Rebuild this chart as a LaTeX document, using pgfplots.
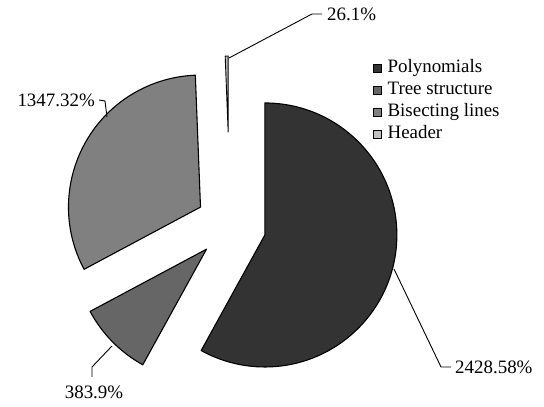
\documentclass[border=0pt]{standalone}
\usepackage{pgfplots}
\pgfplotsset{compat=1.18}
\usepackage{pgfplotstable}
\usepackage{fontspec}
\setmainfont{Liberation Serif}
\definecolor{cPoly}{RGB}{51,51,51}
\definecolor{cTree}{RGB}{102,102,102}
\definecolor{cBis}{RGB}{128,128,128}
\definecolor{cHead}{RGB}{192,192,192}

% label value explode(bp) radius(bp)
\pgfplotstableread{
label value explode radius
Polynomials 2428.58 36 132
Tree 383.9 33 132
Bisecting 1347.32 34 132
Header 26.1 94 76
}\piedata

\begin{document}
\begin{tikzpicture}
\fontsize{19}{22}\selectfont
\pgfplotstablegetelem{0}{value}\of\piedata \edef\vA{\pgfplotsretval}
\pgfplotstablegetelem{1}{value}\of\piedata \edef\vB{\pgfplotsretval}
\pgfplotstablegetelem{2}{value}\of\piedata \edef\vC{\pgfplotsretval}
\pgfplotstablegetelem{3}{value}\of\piedata \edef\vD{\pgfplotsretval}
\pgfplotstablegetelem{0}{explode}\of\piedata \edef\eA{\pgfplotsretval}
\pgfplotstablegetelem{1}{explode}\of\piedata \edef\eB{\pgfplotsretval}
\pgfplotstablegetelem{2}{explode}\of\piedata \edef\eC{\pgfplotsretval}
\pgfplotstablegetelem{3}{explode}\of\piedata \edef\eD{\pgfplotsretval}
\pgfplotstablegetelem{0}{radius}\of\piedata \edef\rA{\pgfplotsretval}
\pgfplotstablegetelem{1}{radius}\of\piedata \edef\rB{\pgfplotsretval}
\pgfplotstablegetelem{2}{radius}\of\piedata \edef\rC{\pgfplotsretval}
\pgfplotstablegetelem{3}{radius}\of\piedata \edef\rD{\pgfplotsretval}
\pgfmathsetmacro{\tot}{(\vA+\vB+\vC+\vD)/100}
\pgfmathsetmacro{\fA}{(\vA/100)/\tot}
\pgfmathsetmacro{\fB}{(\vB/100)/\tot}
\pgfmathsetmacro{\fC}{(\vC/100)/\tot}
\pgfmathsetmacro{\fD}{(\vD/100)/\tot}
\pgfmathsetmacro{\aA}{90}
\pgfmathsetmacro{\aB}{\aA-360*\fA}
\pgfmathsetmacro{\aC}{\aB-360*\fB}
\pgfmathsetmacro{\aD}{\aC-360*\fC}
\pgfmathsetmacro{\aE}{\aD-360*\fD}
% centre of the pie (axis units = bp)
\def\cx{230}\def\cy{181}
\pgfmathsetmacro{\pAx}{\cx+\eA*cos((\aA+\aB)/2)}
\pgfmathsetmacro{\pAy}{\cy+\eA*sin((\aA+\aB)/2)}
\pgfmathsetmacro{\pBx}{\cx+\eB*cos((\aB+\aC)/2)}
\pgfmathsetmacro{\pBy}{\cy+\eB*sin((\aB+\aC)/2)}
\pgfmathsetmacro{\pCx}{\cx+\eC*cos((\aC+\aD)/2)}
\pgfmathsetmacro{\pCy}{\cy+\eC*sin((\aC+\aD)/2)+2}
\pgfmathsetmacro{\pDx}{\cx+\eD*cos((\aD+\aE)/2)}
\pgfmathsetmacro{\pDy}{\cy+\eD*sin((\aD+\aE)/2)}
\begin{axis}[
  scale only axis, width=544bp, height=407bp,
  xmin=0, xmax=544, ymin=0, ymax=407,
  hide axis, clip=false,
  legend style={at={(axis cs:373,348)}, anchor=north west, draw=none, fill=none,
    font=\fontsize{19}{22}\selectfont, inner sep=0pt, row sep=4bp,
    nodes={inner sep=0pt, text height=13.5bp, text depth=4.5bp},
    cells={anchor=west},
    /tikz/every odd column/.append style={column sep=5.5bp}},
  legend image code/.code={\filldraw[#1] (0bp,-4bp) rectangle (8bp,4bp);},
]
\path (axis cs:0,0) rectangle (axis cs:544,407);
\filldraw[fill=cPoly, draw=black, line width=1.1bp, line join=round]
  (axis cs:\pAx,\pAy) -- ++(\aA:\rA bp) arc[start angle=\aA, end angle=\aB, radius=\rA bp] -- cycle;
\filldraw[fill=cTree, draw=black, line width=1.1bp, line join=round]
  (axis cs:\pBx,\pBy) -- ++(\aB:\rB bp) arc[start angle=\aB, end angle=\aC, radius=\rB bp] -- cycle;
\filldraw[fill=cBis, draw=black, line width=1.1bp, line join=round]
  (axis cs:\pCx,\pCy) -- ++(\aC:\rC bp) arc[start angle=\aC, end angle=\aD, radius=\rC bp] -- cycle;
\filldraw[fill=cHead, draw=black, line width=0.9bp, line join=round]
  (axis cs:\pDx,\pDy) -- ++(\aD:\rD bp) arc[start angle=\aD, end angle=\aE, radius=\rD bp] -- cycle;
% leader lines and labels
\draw[line width=0.9bp] (axis cs:394,138) -- (axis cs:441,40) -- (axis cs:451,40);
\node[anchor=west, inner sep=0pt] at (axis cs:455,40) {2428.58\%};
\draw[line width=0.9bp] (axis cs:112,61) -- (axis cs:92,40) -- (axis cs:92,30);
\node[anchor=north, inner sep=0pt] at (axis cs:94,21) {383.9\%};
\draw[line width=0.9bp] (axis cs:107,290) -- (axis cs:105,306) -- (axis cs:99,307);
\node[anchor=east, inner sep=0pt] at (axis cs:95,307) {1347.32\%};
\draw[line width=0.9bp] (axis cs:229,349) -- (axis cs:312,393) -- (axis cs:322,393);
\node[anchor=west, inner sep=0pt] at (axis cs:327,393) {26.1\%};
\addlegendimage{fill=cPoly, draw=black, line width=0.9bp}
\addlegendentry{Polynomials}
\addlegendimage{fill=cTree, draw=black, line width=0.9bp}
\addlegendentry{Tree structure}
\addlegendimage{fill=cBis, draw=black, line width=0.9bp}
\addlegendentry{Bisecting lines}
\addlegendimage{fill=cHead, draw=black, line width=0.9bp}
\addlegendentry{Header}
\end{axis}
\end{tikzpicture}
\end{document}
